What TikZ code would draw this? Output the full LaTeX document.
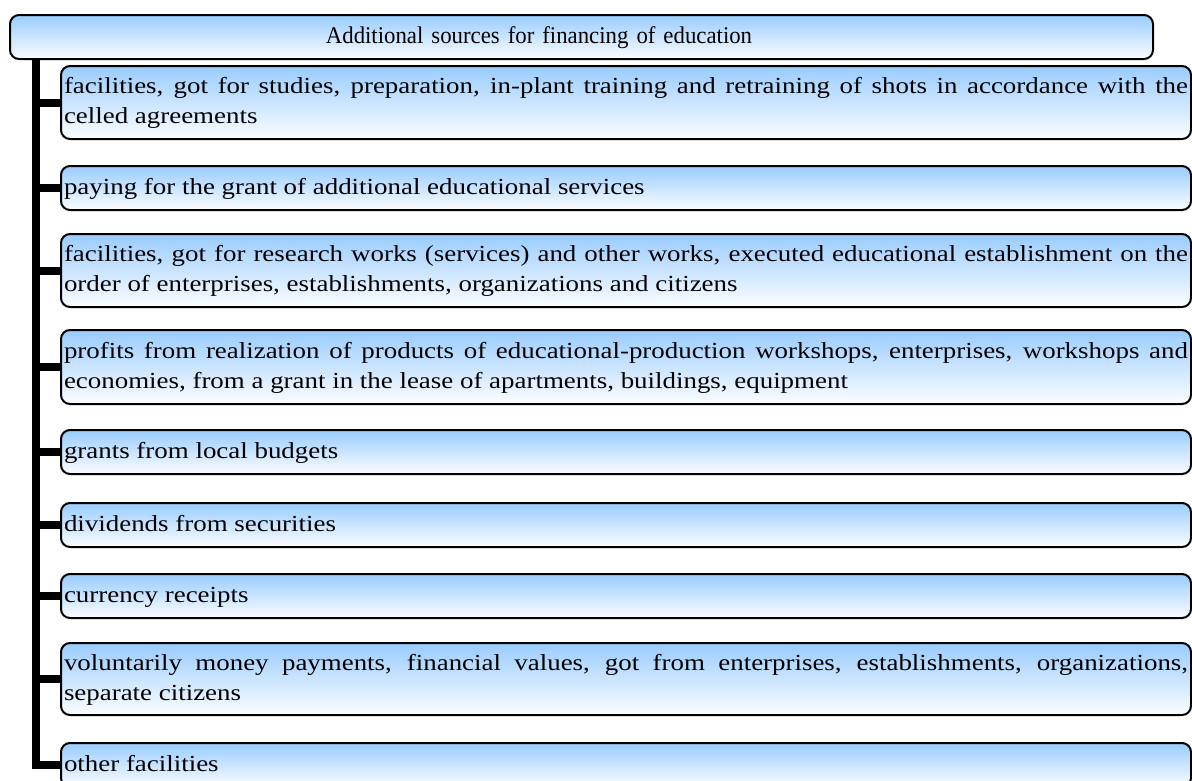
\documentclass[tikz,border=0pt]{standalone}
\usepackage{fontspec}
\setmainfont{Liberation Serif}
\newfontfamily\itemfont[FakeStretch=1.17]{Liberation Serif}
\newfontfamily\titlefont[FakeStretch=0.95]{Liberation Serif}
\usetikzlibrary{backgrounds}
\definecolor{boxtop}{RGB}{153,204,255}
\definecolor{boxbot}{RGB}{252,253,255}
\tikzset{
  itembox/.style={draw=black, line width=2pt, rounded corners=9pt,
    top color=boxtop, bottom color=boxbot, anchor=north west,
    text width=1124pt, inner xsep=3pt, inner ysep=0pt, align=justify,
    font=\itemfont\fontsize{23}{30}\selectfont,
    execute at begin node={\hyphenpenalty=10000\exhyphenpenalty=10000\strut},
    execute at end node={\strut}},
  titlebox/.style={itembox, text width=1137pt, align=center,
    font=\titlefont\fontsize{24}{30}\selectfont},
  trunk/.style={line width=8pt, line cap=rect, line join=miter},
  branch/.style={line width=8pt}
}
\begin{document}
\begin{tikzpicture}[x=1pt,y=-1pt]
\useasboundingbox (0,0) rectangle (1192,780);
\node[titlebox, minimum height=44pt] (top) at (9,14) {\hspace*{-85pt}Additional sources for financing of education};
\node[itembox, minimum height=73pt] (b1) at (60,65) {facilities, got for studies, preparation, in-plant training and retraining of shots in accordance with the\linebreak celled agreements};
\node[itembox, minimum height=44pt] (b2) at (60,165) {paying for the grant of additional educational services};
\node[itembox, minimum height=73pt] (b3) at (60,233) {facilities, got for research works (services) and other works, executed educational establishment on the\linebreak order of enterprises, establishments, organizations and citizens};
\node[itembox, minimum height=74pt] (b4) at (60,329) {profits from realization of products of educational-production workshops, enterprises, workshops and\linebreak economies, from a grant in the lease of apartments, buildings, equipment};
\node[itembox, minimum height=44pt] (b5) at (60,429) {grants from local budgets};
\node[itembox, minimum height=44pt] (b6) at (60,502) {dividends from securities};
\node[itembox, minimum height=44pt] (b7) at (60,573) {currency receipts};
\node[itembox, minimum height=72pt] (b8) at (60,642) {voluntarily money payments, financial values, got from enterprises, establishments, organizations,\linebreak separate citizens};
\node[itembox, minimum height=44pt] (b9) at (60,742) {other facilities};
\coordinate (t0) at (36,58);
\begin{scope}[on background layer]
  \draw[trunk] (t0) |- (b9.west);
  \foreach \b in {b1,b2,b3,b4,b5,b6,b7,b8}
    \draw[branch] (t0 |- \b.west) -- (\b.west);
\end{scope}
\end{tikzpicture}
\end{document}
